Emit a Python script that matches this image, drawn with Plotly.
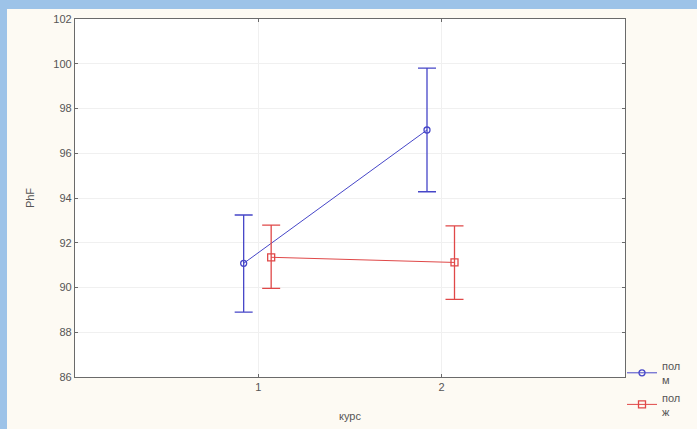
import plotly.graph_objects as go

courses = [1, 2]
tick_labels = ["1", "2"]

male_mean = [91.08, 97.04]
male_upper = [93.24, 99.80]
male_lower = [88.90, 94.28]

female_mean = [91.35, 91.12]
female_upper = [92.79, 92.75]
female_lower = [89.96, 89.47]

y_ticks = [86, 88, 90, 92, 94, 96, 98, 100, 102]

BLUE = "#4646c8"
RED = "#e04848"

W, H = 697, 429
ML, MR, MT, MB = 75, 72, 19, 52
PW = W - ML - MR
PH = H - MT - MB

fig = go.Figure()

def add_series(name, means, up, lo, offset, color, symbol, size):
    xs = [c + offset for c in courses]
    fig.add_trace(go.Scatter(
        x=xs, y=means, name=name, mode="lines+markers",
        line=dict(color=color, width=1),
        marker=dict(symbol=symbol, size=size, color=color,
                    line=dict(color=color, width=1.3)),
        error_y=dict(type="data", symmetric=False,
                     array=[u - m for u, m in zip(up, means)],
                     arrayminus=[m - l for m, l in zip(means, lo)],
                     color=color, thickness=1.3, width=9),
    ))

add_series("пол<br>м", male_mean, male_upper, male_lower, -0.08, BLUE, "circle-open", 6)
add_series("пол<br>ж", female_mean, female_upper, female_lower, 0.07, RED, "square-open", 7)

def px_x(p):
    return (p - ML) / PW

def px_y(p):
    return (H - MB - p) / PH

# blue frame strips (left and top)
fig.add_shape(type="rect", xref="paper", yref="paper",
              x0=px_x(0), x1=px_x(7), y0=px_y(H), y1=px_y(0),
              fillcolor="#9dc3e8", line_width=0, layer="below")
fig.add_shape(type="rect", xref="paper", yref="paper",
              x0=px_x(0), x1=px_x(W), y0=px_y(9), y1=px_y(0),
              fillcolor="#9dc3e8", line_width=0, layer="below")

FONT = dict(family="Liberation Sans, Arial", size=11, color="#555555")

axis_common = dict(
    showline=True, linecolor="#6a6a6a", linewidth=1.2, mirror="allticks",
    ticks="inside", ticklen=3, tickcolor="#6a6a6a",
    showgrid=True, gridcolor="#f0f0f0", gridwidth=1, zeroline=False,
    automargin=False, tickfont=FONT,
)

fig.update_layout(
    width=W, height=H,
    margin=dict(l=ML, r=MR, t=MT, b=MB, autoexpand=False),
    paper_bgcolor="#fdfaf3",
    plot_bgcolor="#ffffff",
    showlegend=True,
    legend=dict(x=px_x(622), y=px_y(352), xanchor="left", yanchor="top",
                bgcolor="rgba(0,0,0,0)", tracegroupgap=0,
                itemwidth=30, font=FONT),
    xaxis=dict(range=[0, 3], tickmode="array", tickvals=courses, ticktext=tick_labels,
               title=dict(text="курс", standoff=20, font=FONT),
               **axis_common),
    yaxis=dict(range=[86, 102], tickmode="array", tickvals=y_ticks,
               title=dict(text="PhF", standoff=16, font=FONT),
               **axis_common),
)

fig.write_html(
    "out.html",
    config={"displayModeBar": False},
    post_script="document.body.style.margin='0';document.body.style.padding='0';"
                "document.body.style.overflow='hidden';",
)
